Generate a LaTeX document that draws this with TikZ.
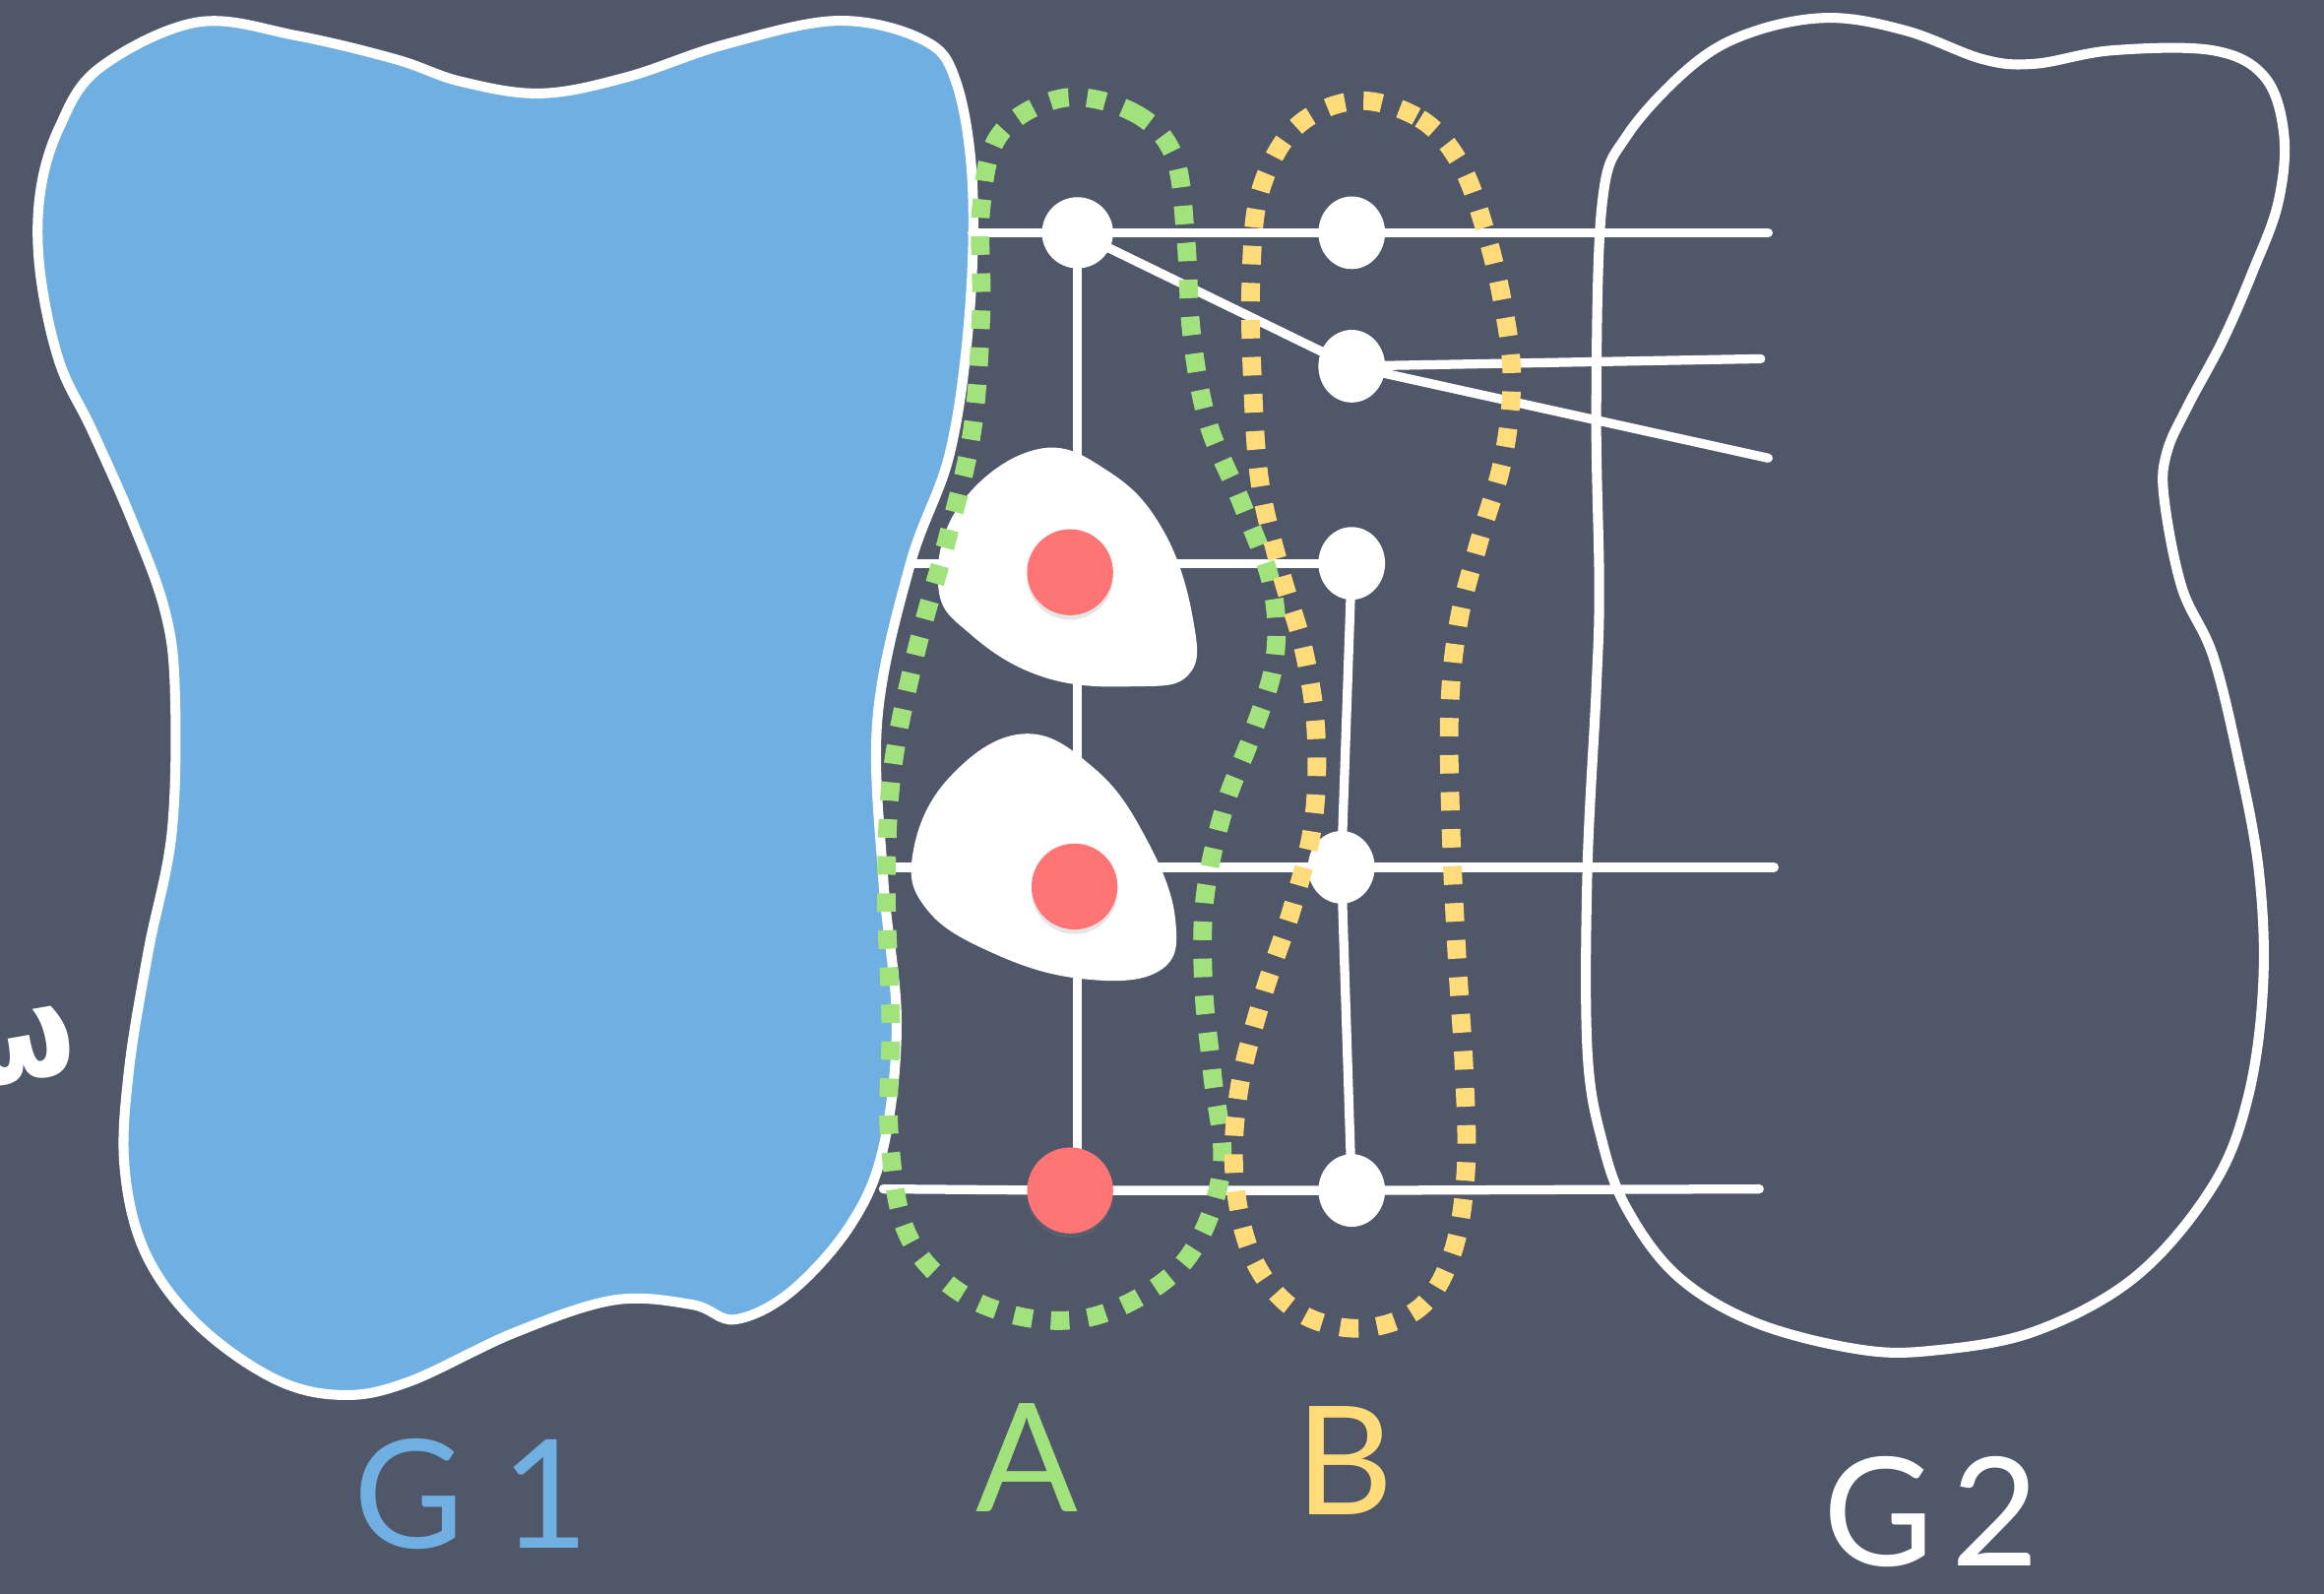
\documentclass[tikz,border=0pt]{standalone}
\usepackage{fontspec}
\newfontfamily\chalkfont{Lato}
\newfontfamily\symfont{DejaVu Sans}
\usetikzlibrary{shapes.geometric,shadows}

\definecolor{board}{RGB}{80,87,104}
\definecolor{gone}{RGB}{111,175,225}
\definecolor{hitred}{RGB}{255,117,117}
\definecolor{setA}{RGB}{162,226,124}
\definecolor{setB}{RGB}{255,219,122}

\pgfdeclarelayer{board}
\pgfdeclarelayer{wires}
\pgfsetlayers{board,wires,main}

\begin{document}
\begin{tikzpicture}[
  x=0.1mm, y=-0.1mm,
  chalk/.style={draw=white, line width=1.75pt, line cap=round, line join=round},
  outline/.style={draw=white, line width=1.9pt},
  avtx/.style={circle, fill=white, inner sep=0pt, minimum size=4.8mm},
  bvtx/.style={ellipse, fill=white, inner sep=0pt, minimum width=4.5mm, minimum height=4.9mm},
  hit/.style={circle, fill=hitred, inner sep=0pt, minimum size=5.8mm,
    drop shadow={shadow xshift=0pt, shadow yshift=-0.3mm, opacity=0.2}},
  dotted loop/.style={line width=1.25mm, dash pattern=on 1.25mm off 1.25mm},
  lbl/.style={font=\chalkfont\fontsize{29}{29}\selectfont, inner sep=0pt}
]
\useasboundingbox (0,0) rectangle (1568,1075);

\begin{pgfonlayer}{board}
  \fill[board] (0,0) rectangle (1568,1075);
  % the two sides
  \path[outline, fill=gone] plot[smooth cycle, tension=0.6] coordinates {
    (40,86) (67,46) (133,15) (200,24) (267,40) (311,55) (365,63) (423,52)
    (489,30) (565,14) (623,27) (645,55) (656,122) (654,213) (641,305)
    (614,381) (592,485) (596,594) (605,690) (596,774) (574,826) (534,871)
    (496,890) (467,880) (414,877) (347,899) (276,932) (231,941) (185,930)
    (133,893) (98,845) (84,787) (87,722) (100,642) (116,561) (118,465)
    (111,411) (89,351) (62,290) (40,244) (27,183) (27,131)};
  \path[outline] plot[smooth cycle, tension=0.6] coordinates {
    (1081,137) (1098,91) (1143,43) (1184,21) (1235,12) (1287,21) (1338,40)
    (1373,43) (1425,34) (1493,34) (1528,52) (1541,91) (1537,137) (1520,183)
    (1500,229) (1476,274) (1462,305) (1460,335) (1472,396) (1493,442)
    (1510,511) (1524,587) (1527,663) (1517,739) (1493,800) (1441,861)
    (1373,898) (1304,911) (1253,910) (1184,892) (1132,861) (1098,816)
    (1081,770) (1071,709) (1071,587) (1077,465) (1079,396) (1077,274)};
\end{pgfonlayer}

% vertices
\node[avtx] (a1) at (727,157) {};
\node[bvtx] (b1) at (912,157) {};
\node[bvtx] (b2) at (912,247) {};
\node[bvtx] (b3) at (912,380) {};
\node[bvtx] (b4) at (905,585) {};
\node[bvtx] (b5) at (912,803) {};

% big chalk smudges round the hits
\fill[white] plot[smooth cycle, tension=0.7] coordinates {
  (700,303) (748,318) (785,358) (805,418) (802,455) (765,463) (705,457)
  (655,428) (633,395) (648,340)};
\fill[white] plot[smooth cycle, tension=0.7] coordinates {
  (690,495) (738,518) (773,565) (793,620) (782,655) (728,660) (668,642)
  (625,613) (616,575) (640,525)};

\node[hit] (a2) at (722,386) {};
\node[hit] (a3) at (725,598) {};
\node[hit] (a4) at (722,803) {};

% free ends of the edges
\coordinate (l1) at (656,157);
\coordinate (r1) at (1193,157);
\coordinate (r2) at (1188,242);
\coordinate (r3) at (1193,309);
\coordinate (l4) at (614,380);
\coordinate (l5) at (598,585);
\coordinate (r5) at (1197,585);
\coordinate (l6) at (596,802);
\coordinate (r6) at (1187,802);

\begin{pgfonlayer}{wires}
  \draw[chalk] (l1) -- (a1.center) -- (b1.center) -- (r1);
  \draw[chalk] (a1.center) -- (b2.center) -- (r3);
  \draw[chalk] (b2.center) -- (r2);
  \draw[chalk] (l4) -- (b3.center);
  \draw[chalk] (l5) -- (b4.center) -- (r5);
  \draw[chalk] (l6) -- (a4.center) -- (b5.center) -- (r6);
  \draw[chalk] (a1.center) -- (a1.center |- a4.center);
  \draw[chalk] (b3.center) -- (b4.center) -- (b5.center);
\end{pgfonlayer}

% separators A and B
\draw[setA, dotted loop] plot[smooth cycle, tension=0.6] coordinates {
  (718,66) (765,76) (792,105) (800,160) (804,225) (815,285) (838,340)
  (858,395) (860,445) (845,495) (826,545) (813,605) (812,665) (818,725)
  (824,790) (800,850) (750,884) (700,890) (648,872) (612,832) (600,765)
  (601,690) (598,600) (602,520) (618,440) (640,360) (656,290) (662,210)
  (662,140) (675,90)};
\draw[setB, dotted loop] plot[smooth cycle, tension=0.6] coordinates {
  (915,68) (958,80) (985,110) (1002,155) (1014,205) (1020,255) (1014,310)
  (998,365) (984,420) (978,480) (979,560) (983,645) (988,725) (989,790)
  (980,845) (958,882) (918,896) (876,885) (846,850) (833,795) (836,735)
  (852,672) (872,612) (886,555) (888,495) (880,440) (864,385) (850,325)
  (845,255) (844,190) (850,130) (874,86)};

% labels
\node[lbl, text=gone] (g1) at (318,1008) {G\kern2.5mm1};
\node[lbl, text=setA] (la) at (693,983) {A};
\node[lbl, text=setB] (lb) at (907,985) {B};
\node[lbl, text=white] (g2) at (1303,1020) {G\kern1.2mm2};
\node[font=\symfont\bfseries\fontsize{24}{24}\selectfont, text=white, rotate=10] (w) at (14,706) {ω};
\end{tikzpicture}
\end{document}
